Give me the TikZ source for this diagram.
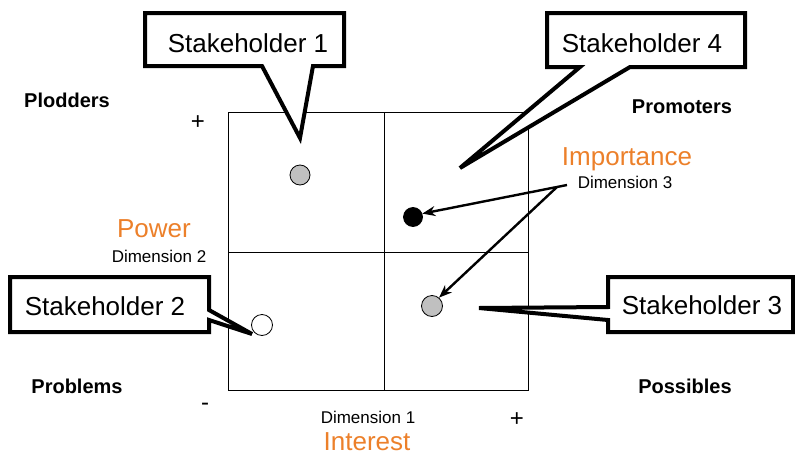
\documentclass[tikz,border=0pt]{standalone}
\usepackage{fontspec}
\setmainfont{Liberation Sans}
\usetikzlibrary{arrows.meta}
\definecolor{orng}{RGB}{236,128,42}
\definecolor{dotgray}{RGB}{192,192,192}
\tikzset{
  x=1pt,y=-1pt,
  grid/.style={line width=1pt},
  callout/.style={draw=black,fill=white,line width=4pt,line join=miter},
  ctext/.style={anchor=base,font=\fontsize{26}{31}\selectfont,inner sep=0},
  quad/.style={anchor=base,font=\fontsize{20}{24}\selectfont\bfseries,inner sep=0},
  dimname/.style={anchor=base,font=\fontsize{26}{31}\selectfont,text=orng,inner sep=0},
  dimlab/.style={anchor=base,font=\fontsize{17}{20}\selectfont,inner sep=0},
  sign/.style={font=\fontsize{24}{28}\selectfont,inner sep=0},
  dot/.style={circle,draw=black,line width=0.8pt,minimum size=20pt,inner sep=0},
  arr/.style={line width=2.4pt,-{Stealth[length=13pt,width=10pt]}}
}
\begin{document}
\begin{tikzpicture}
\useasboundingbox (0,0) rectangle (795,455);
% grid
\draw[grid] (228,112) rectangle (528,390);
\draw[grid] (384,112) -- (384,390);
\draw[grid] (228,252) -- (528,252);
% dots
\node[dot,fill=dotgray] (s1) at (300,175) {};
\node[dot,fill=black,minimum size=19pt] (s4) at (413,217) {};
\node[dot,fill=dotgray,minimum size=21pt] (s3) at (432,306) {};
\node[dot,fill=white,minimum size=21pt] (s2) at (262,325) {};
% callouts
\draw[callout] (145,13) -- (344,13) -- (344,66) -- (313,66) -- (300,138) -- (262,66) -- (145,66) -- cycle;
\node[ctext] (t1) at (248,52) {Stakeholder 1};
\draw[callout] (547,13) -- (745,13) -- (745,67) -- (630,67) -- (460,168) -- (580,67) -- (547,67) -- cycle;
\node[ctext] (t4) at (642,52) {Stakeholder 4};
\draw[callout] (10,277) -- (209,277) -- (209,310) -- (252,334) -- (209,320) -- (209,332) -- (10,332) -- cycle;
\node[ctext] (t2) at (105,315) {Stakeholder 2};
\draw[callout] (608,277) -- (793,277) -- (793,332) -- (608,332) -- (608,320) -- (479,308) -- (608,307) -- cycle;
\node[ctext] (t3) at (702,314) {Stakeholder 3};
% quadrant labels
\node[quad] (q1) at (67,107) {Plodders};
\node[quad] (q2) at (682,113) {Promoters};
\node[quad] (q3) at (77,393) {Problems};
\node[quad] (q4) at (685,393) {Possibles};
% dimensions
\node[dimname] (pw) at (154,237) {Power};
\node[dimlab] (d2) at (159,262) {Dimension 2};
\node[dimname] (im) at (627,165) {Importance};
\node[dimlab] (d3) at (625,188) {Dimension 3};
\node[dimlab] (d1) at (368,423) {Dimension 1};
\node[dimname] (in) at (367,450) {Interest};
% signs
\node[sign] (p1) at (198,123) {+};
\node[sign] (m1) at (205,407) {-};
\node[sign] (p2) at (517,420) {+};
% arrows
\coordinate (a1) at (567,185);
\coordinate (a2) at (557,187);
\draw[arr] (a1) -- (s4.20);
\draw[arr] (a2) -- (s3.50);
\end{tikzpicture}
\end{document}
